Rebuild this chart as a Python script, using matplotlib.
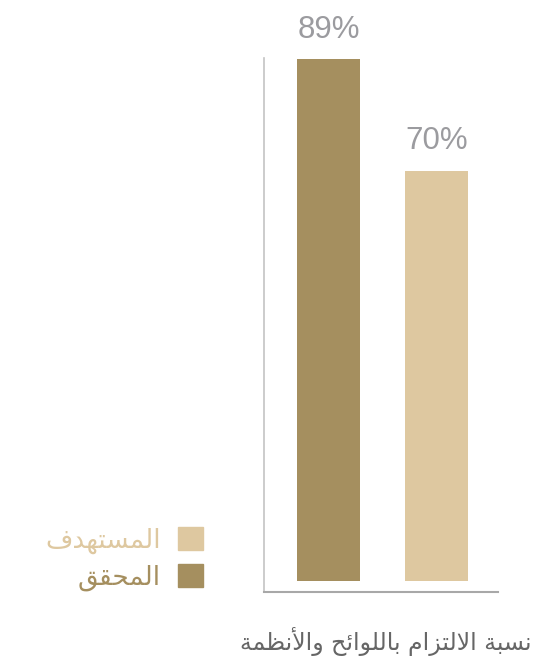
import matplotlib
matplotlib.use('Agg')
import matplotlib.pyplot as plt
from matplotlib.patches import Patch

# data
categories = ['المحقق', 'المستهدف']
values = [89, 70]
value_labels = ['89%', '70%']
bar_colors = ['#a58f5f', '#dec8a0']
chart_title = 'نسبة الالتزام باللوائح والأنظمة'

# small arabic shaper (matplotlib has no text shaping)
# char -> (isolated, final, initial, medial)
FORMS = {
    'ا': ('\ufe8d', '\ufe8e', None, None),
    'أ': ('\ufe83', '\ufe84', None, None),
    'ب': ('\ufe8f', '\ufe90', '\ufe91', '\ufe92'),
    'ة': ('\ufe93', '\ufe94', None, None),
    'ت': ('\ufe95', '\ufe96', '\ufe97', '\ufe98'),
    'ح': ('\ufea1', '\ufea2', '\ufea3', '\ufea4'),
    'د': ('\ufea9', '\ufeaa', None, None),
    'ز': ('\ufeaf', '\ufeb0', None, None),
    'س': ('\ufeb1', '\ufeb2', '\ufeb3', '\ufeb4'),
    'ظ': ('\ufec5', '\ufec6', '\ufec7', '\ufec8'),
    'ف': ('\ufed1', '\ufed2', '\ufed3', '\ufed4'),
    'ق': ('\ufed5', '\ufed6', '\ufed7', '\ufed8'),
    'ل': ('\ufedd', '\ufede', '\ufedf', '\ufee0'),
    'م': ('\ufee1', '\ufee2', '\ufee3', '\ufee4'),
    'ن': ('\ufee5', '\ufee6', '\ufee7', '\ufee8'),
    'ه': ('\ufee9', '\ufeea', '\ufeeb', '\ufeec'),
    'و': ('\ufeed', '\ufeee', None, None),
    'ئ': ('\ufe89', '\ufe8a', '\ufe8b', '\ufe8c'),
}
LAM_ALEF = {'ا': ('\ufefb', '\ufefc'), 'أ': ('\ufef7', '\ufef8')}


def dual(c):
    return c in FORMS and FORMS[c][2] is not None


def shape(text):
    out = []
    i = 0
    while i < len(text):
        c = text[i]
        prev = text[i - 1] if i > 0 else ''
        nxt = text[i + 1] if i + 1 < len(text) else ''
        if c not in FORMS:
            out.append(c)
            i += 1
            continue
        jp = dual(prev)
        if c == 'ل' and nxt in LAM_ALEF:
            out.append(LAM_ALEF[nxt][1 if jp else 0])
            i += 2
            continue
        jn = dual(c) and nxt in FORMS
        f = FORMS[c]
        if jp and jn:
            out.append(f[3])
        elif jp:
            out.append(f[1])
        elif jn:
            out.append(f[2])
        else:
            out.append(f[0])
        i += 1
    return ''.join(out)[::-1]


fig = plt.figure(figsize=(5.56, 6.66), dpi=100)
ax = fig.add_axes([264 / 556, 1 - 592 / 666, 234 / 556, 534 / 666])

x = [0, 1]
bars = ax.bar(x, values, width=0.583, color=bar_colors)
ax.bar_label(bars, labels=value_labels, padding=10.5, fontsize=22.5,
             color='#9b9b9f', family='Liberation Sans')

ax.set_xlim(-0.597, 1.569)
ax.set_ylim(-1.9, 89.2)
ax.set_xticks([])
ax.set_yticks([])
for s in ['top', 'right']:
    ax.spines[s].set_visible(False)
ax.spines['left'].set_color('#c4c4c4')
ax.spines['left'].set_linewidth(1.2)
ax.spines['bottom'].set_color('#a8a8a8')
ax.spines['bottom'].set_linewidth(1.5)

# legend: target on top, achieved below
handles = [Patch(color=bar_colors[1]), Patch(color=bar_colors[0])]
labels = [shape(categories[1]), shape(categories[0])]
fig.legend(handles, labels, loc='upper right', bbox_to_anchor=(203 / 556, 1 - 527 / 666),
           frameon=False, markerfirst=False, fontsize=19,
           labelcolor=[bar_colors[1], bar_colors[0]],
           handlelength=0.95, handleheight=0.95, handletextpad=0.65,
           labelspacing=0.38, borderaxespad=0, borderpad=0)

fig.text(532 / 556, 1 - 641 / 666, shape(chart_title), ha='right', va='center',
         fontsize=17, color='#666666', family='DejaVu Sans')

fig.savefig('out.png', dpi=100)
